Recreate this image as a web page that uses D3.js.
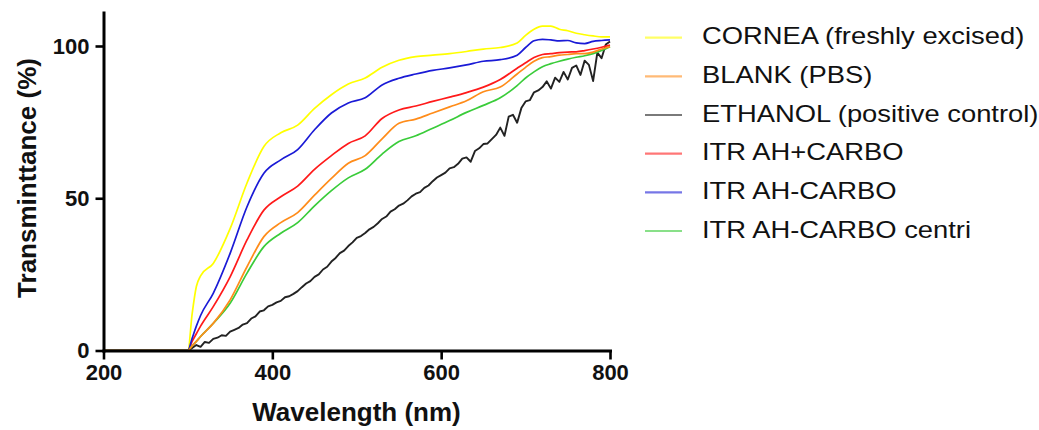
<!DOCTYPE html>
<html>
<head>
<meta charset="utf-8">
<script src="https://cdn.jsdelivr.net/npm/d3@7"></script>
<style>
  html, body { margin: 0; padding: 0; background: #fff; }
  svg { display: block; font-family: "Liberation Sans", Arial, Helvetica, sans-serif; }
</style>
</head>
<body>
<svg id="chart" width="1039" height="430"></svg>
<script>
// ---------- DATA ----------
const seriesNames = [
  "CORNEA (freshly excised)",
  "BLANK (PBS)",
  "ETHANOL (positive control)",
  "ITR AH+CARBO",
  "ITR AH-CARBO",
  "ITR AH-CARBO centri"
];
const seriesColors = ["#ffff00", "#ff8c1a", "#222222", "#ff1a1a", "#1a1ad6", "#3acc3a"];

const xTicks = [200, 400, 600, 800];
const yTicks = [0, 50, 100];

// common wavelength grid (nm) for the smooth spectra
const wavelengths = [200, 300, 305, 310, 315, 330, 350, 370, 390, 410, 430, 450, 470, 490, 510, 530, 550,
  570, 590, 610, 630, 650, 670, 690, 700, 710, 720, 730, 740, 750, 760, 770, 780, 790, 800];

const cornea = [0, 0, 12, 21, 24.5, 28.6, 40, 55, 67, 71.5, 74, 79.5, 84, 87.5, 89.5, 93, 95.3,
  96.5, 97, 97.5, 98.2, 99, 99.5, 101, 103.5, 105.5, 106.5, 106.5, 105.5, 105, 104.2, 103.7, 103.3, 103, 103];
const blank = [0, 0, 1.5, 3, 4.6, 8.9, 16.6, 27.5, 37.4, 42, 45.3, 51, 56.5, 61.5, 64, 69.5, 74.6,
  76, 78, 80, 82, 85, 86.5, 90.8, 93, 95, 96.2, 96.5, 97, 97.2, 97.5, 97.5, 98, 99, 99.8];
const itrAhPlusCarbo = [0, 0, 3, 5.5, 8, 14.4, 24.2, 36.3, 46.1, 50.5, 54, 59.5, 64, 68, 70.5, 76.2, 79,
  80.3, 81.8, 83.2, 84.7, 86.5, 89, 92.7, 94.5, 96.2, 97.2, 97.5, 97.8, 98, 98.1, 98.5, 99, 99.6, 100.3];
const itrAhMinusCarbo = [0, 0, 4, 8, 11.5, 18.8, 31.9, 47.2, 58.2, 62.6, 66, 72.5, 78, 81.3, 83, 87.2, 89.4,
  90.8, 92, 92.8, 93.8, 95, 95.5, 97, 99.5, 101.7, 102.2, 102, 101.7, 101.8, 101, 100.8, 101.5, 101.8, 102];
const itrAhMinusCarboCentri = [0, 0, 1.5, 3, 4.6, 8.9, 15.5, 25.4, 34.1, 38.5, 42, 47.5, 52.5, 56.7, 59.5, 64.5, 68.6,
  70.5, 73, 75.5, 78.2, 80.5, 83, 87, 89.5, 91.5, 93.2, 94.2, 95, 95.7, 96.3, 96.8, 97.5, 98.5, 99.8];

// ethanol spectrum is noisy: its own, denser wavelength grid
const ethanolWavelengths = [200, 300, 305, 310, 315, 320, 325, 330, 335, 340, 345, 350, 355, 360, 365, 370, 375,
  380, 385, 390, 395, 400, 405, 410, 415, 420, 425, 430, 435, 440, 445, 450, 455, 460, 465, 470, 475,
  480, 485, 490, 495, 500, 505, 510, 515, 520, 525, 530, 535, 540, 545, 550, 555, 560, 565, 570, 575,
  580, 585, 590, 595, 600, 605, 610, 615, 620, 625, 630, 635, 640, 645, 650, 655, 660, 665, 670, 675,
  680, 685, 690, 695, 700, 705, 710, 715, 720, 725, 730, 735, 740, 745, 750, 755, 760, 765, 770, 775,
  780, 785, 790, 795, 800];
const ethanol = [0, 0, 0.8, 1.8, 1.2, 2.8, 2.5, 3.8, 4.2, 5.0, 4.8, 6.2, 6.8, 7.4, 8.5, 9.0, 10.5,
  11.2, 12.8, 13.2, 14.5, 15.0, 15.8, 16.3, 17.5, 17.8, 18.6, 19.5, 20.8, 22.0, 22.8, 24.2, 25.0, 26.6, 27.5, 29.2, 30.4,
  32.0, 32.8, 34.3, 35.5, 37.0, 37.6, 38.6, 39.8, 40.6, 41.8, 43.2, 44.0, 45.6, 46.4, 47.6, 48.2, 49.3, 50.6, 51.5, 52.0,
  53.4, 54.2, 55.6, 56.8, 57.6, 58.4, 59.8, 60.2, 61.3, 63.0, 63.4, 62.0, 65.5, 66.4, 67.8, 68.0, 69.4, 70.8, 73.2, 70.5,
  76.8, 77.4, 74.8, 79.6, 81.8, 82.2, 84.8, 85.4, 86.5, 88.4, 86.0, 89.6, 88.2, 91.5, 89.0, 92.8, 93.6, 90.5, 95.2, 93.8,
  88.5, 97.8, 96.0, 100.5, 101.5];

// ---------- CHART ----------
const svg = d3.select("#chart");
const x = d3.scaleLinear().domain([200, 800]).range([103.5, 610]);
const y = d3.scaleLinear().domain([0, 111]).range([350.5, 12.5]);

const series = [
  { name: seriesNames[0], color: seriesColors[0], xs: wavelengths, ys: cornea, smooth: true },
  { name: seriesNames[1], color: seriesColors[1], xs: wavelengths, ys: blank, smooth: true },
  { name: seriesNames[2], color: seriesColors[2], xs: ethanolWavelengths, ys: ethanol, smooth: false },
  { name: seriesNames[3], color: seriesColors[3], xs: wavelengths, ys: itrAhPlusCarbo, smooth: true },
  { name: seriesNames[4], color: seriesColors[4], xs: wavelengths, ys: itrAhMinusCarbo, smooth: true },
  { name: seriesNames[5], color: seriesColors[5], xs: wavelengths, ys: itrAhMinusCarboCentri, smooth: true }
];

const smoothLine = d3.line().x(d => x(d[0])).y(d => y(d[1])).curve(d3.curveMonotoneX);
const rawLine = d3.line().x(d => x(d[0])).y(d => y(d[1])).curve(d3.curveLinear);

// draw order so that the blank (orange) sits on top at baseline
const drawOrder = [0, 2, 3, 4, 5, 1];
const plot = svg.append("g");
drawOrder.forEach(i => {
  const s = series[i];
  plot.append("path")
    .datum(s.xs.map((w, k) => [w, s.ys[k]]))
    .attr("d", s.smooth ? smoothLine : rawLine)
    .attr("fill", "none")
    .attr("stroke", s.color)
    .attr("stroke-width", s.smooth ? 1.7 : 1.9)
    .attr("stroke-linejoin", "round");
});

// axes
const xAxis = svg.append("g")
  .attr("transform", `translate(0,${y(0)})`)
  .call(d3.axisBottom(x).tickValues(xTicks).tickSize(9).tickSizeOuter(0).tickPadding(5));
const yAxis = svg.append("g")
  .attr("transform", `translate(${x(200)},0)`)
  .call(d3.axisLeft(y).tickValues(yTicks).tickSize(8).tickSizeOuter(0).tickPadding(6));

[xAxis, yAxis].forEach(g => {
  g.select(".domain").attr("stroke", "#000").attr("stroke-width", 3).attr("stroke-linecap", "square");
  g.selectAll(".tick line").attr("stroke", "#000").attr("stroke-width", 2.6);
  g.selectAll(".tick text")
    .attr("fill", "#111")
    .attr("font-family", "'Liberation Sans', Arial, sans-serif")
    .attr("font-weight", "bold")
    .attr("font-size", 22);
});

// axis titles
svg.append("text")
  .attr("x", 356.5).attr("y", 421)
  .attr("text-anchor", "middle")
  .attr("font-weight", "bold").attr("font-size", 26).attr("fill", "#111")
  .text("Wavelength (nm)");

svg.append("text")
  .attr("transform", "translate(36,178) rotate(-90)")
  .attr("text-anchor", "middle")
  .attr("font-weight", "bold").attr("font-size", 26).attr("fill", "#111")
  .text("Transminttance (%)");

// legend
const legend = svg.append("g").attr("transform", "translate(645,37.7)");
series.forEach((s, i) => {
  const row = legend.append("g").attr("transform", `translate(0,${i * 38.66})`);
  row.append("line")
    .attr("x1", 0).attr("x2", 37).attr("y1", 0).attr("y2", 0)
    .attr("stroke", s.color).attr("stroke-width", 2.2).attr("stroke-opacity", 0.6);
  row.append("text")
    .attr("transform", "translate(57,6.5) scale(1.19,1)")
    .attr("font-size", 23).attr("fill", "#111")
    .text(s.name);
});
</script>
</body>
</html>
